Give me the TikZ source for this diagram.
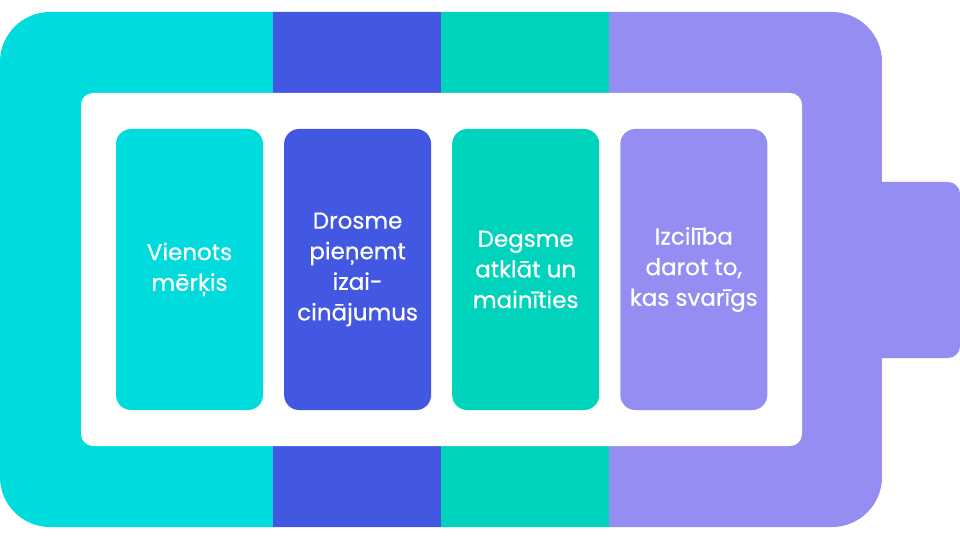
\documentclass[tikz,border=0pt]{standalone}
\usepackage{fontspec}
\setmainfont{Poppins}
\newfontfamily\cellfont{Poppins}[FakeBold=0.6]
\usetikzlibrary{positioning}
\definecolor{battcyan}{RGB}{0,220,222}
\definecolor{battblue}{RGB}{66,88,226}
\definecolor{battteal}{RGB}{0,211,188}
\definecolor{battlav}{RGB}{148,142,242}
\tikzset{
    %Define style for the cells
    cell/.style={
           rectangle,
           rounded corners=15pt,
           minimum width=147pt,
           minimum height=281pt,
           inner sep=0pt,
           align=center,
           text=white,
           font=\cellfont\fontsize{23}{30.6}\selectfont},
    %Define style for the bands of the battery body
    band/.style={draw=none}
}
\begin{document}
\begin{tikzpicture}[x=1pt,y=-1pt,node distance=20.7pt]
\useasboundingbox (0,0) rectangle (960,540);
 %terminal
\fill[battlav, rounded corners=12pt] (840,182) rectangle (960,358);
 %body
\begin{scope}
\clip[rounded corners=50pt] (0,12) rectangle (882,527);
\fill[band, battcyan] (0,0) rectangle (273,540);
\fill[band, battblue] (273,0) rectangle (441,540);
\fill[band, battteal] (441,0) rectangle (609,540);
\fill[band, battlav] (609,0) rectangle (882,540);
\end{scope}
\fill[white, rounded corners=12pt] (81,93) rectangle (802,446);
 %cells
\node[cell, fill=battcyan] (unity) at (189.5,269.5) {Vienots\\mērķis};
\node[cell, fill=battblue, right=of unity] (courage) {Drosme\\pieņemt\\izai-\\cinājumus};
\node[cell, fill=battteal, right=of courage] (passion) {Degsme\\atklāt un\\mainīties};
\node[cell, fill=battlav, right=of passion] (excellence) {Izcilība\\darot to,\\kas svarīgs};
\end{tikzpicture}
\end{document}
